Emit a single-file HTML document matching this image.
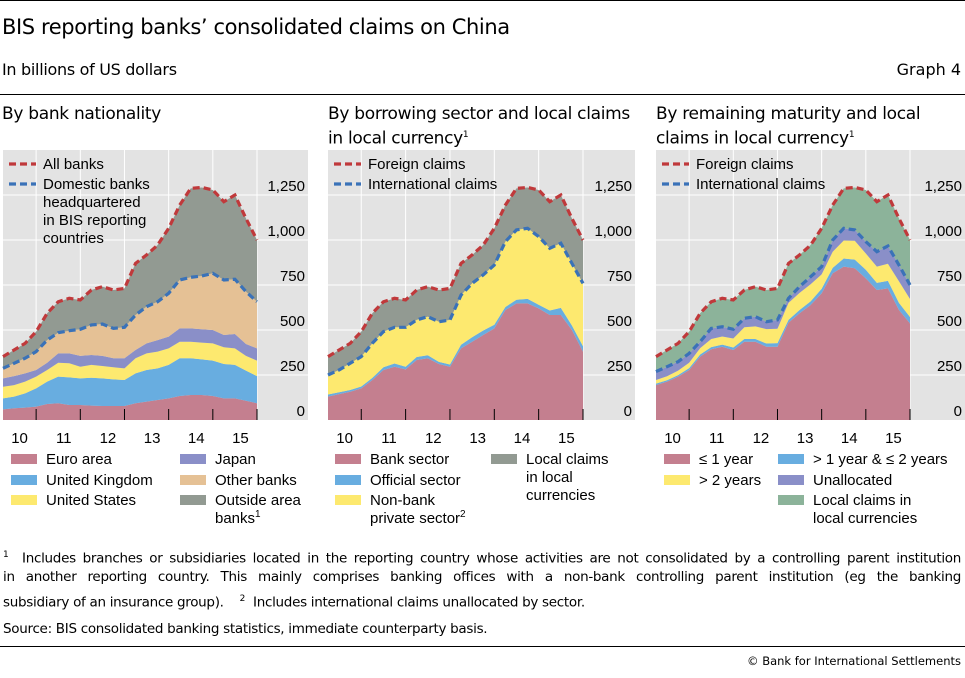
<!DOCTYPE html>
<html><head><meta charset="utf-8"><style>
body{margin:0;width:965px;height:678px;background:#fff;position:relative;font-family:"Liberation Sans",sans-serif;color:#000;overflow:hidden}
.t{position:absolute;white-space:nowrap}
.hd{font-family:"DejaVu Sans","Liberation Sans",sans-serif}
.fl{position:absolute;left:3px;width:958px;font-size:13.5px;line-height:21px;text-align:justify;text-align-last:justify;white-space:nowrap;font-family:"DejaVu Sans","Liberation Sans",sans-serif;letter-spacing:-0.3px}
sup{font-size:9px}
</style></head><body>
<div style="position:absolute;left:0;top:0;width:965px;height:1px;background:#000"></div>
<div class="t hd" style="left:2px;top:15px;font-size:21px;letter-spacing:-0.4px">BIS reporting banks’ consolidated claims on China</div>
<div class="t hd" style="left:2px;top:60px;font-size:16px;letter-spacing:-0.3px">In billions of US dollars</div>
<div class="t hd" style="right:4px;top:60px;font-size:16px">Graph 4</div>
<div style="position:absolute;left:0;top:94px;width:965px;height:1px;background:#000"></div>
<div class="t hd" style="left:2px;top:104px;font-size:17px;letter-spacing:-0.3px">By bank nationality</div>
<div class="t hd" style="left:328px;top:104px;font-size:17px;line-height:21px;letter-spacing:-0.3px">By borrowing sector and local claims<br>in local currency<sup>1</sup></div>
<div class="t hd" style="left:656px;top:104px;font-size:17px;line-height:21px;letter-spacing:-0.3px">By remaining maturity and local<br>claims in local currency<sup>1</sup></div>
<svg id="svg" width="965" height="678" style="position:absolute;left:0;top:0" font-family="Liberation Sans, sans-serif"></svg>
<div class="fl" style="top:545px"><sup>1</sup>&nbsp; Includes branches or subsidiaries located in the reporting country whose activities are not consolidated by a controlling parent institution</div>
<div class="fl" style="top:567px">in another reporting country. This mainly comprises banking offices with a non-bank controlling parent institution (eg the banking</div>
<div class="fl" style="top:589px;text-align-last:left">subsidiary of an insurance group).&nbsp;&nbsp;&nbsp; <sup>2</sup>&nbsp; Includes international claims unallocated by sector.</div>
<div class="t hd" style="left:3px;top:621px;font-size:13.5px;letter-spacing:-0.3px">Source: BIS consolidated banking statistics, immediate counterparty basis.</div>
<div style="position:absolute;left:0;top:646px;width:965px;height:1px;background:#000"></div>
<div class="t hd" style="right:4px;top:654px;font-size:11.5px">© Bank for International Settlements</div>
<script>
const years=['10','11','12','13','14','15'];
const yTicks=[0,250,500,750,1000,1250];
// panel 1
const p1Euro=[59,65,69,74,89,93,83,83,80,78,78,78,93,102,111,120,133,139,139,133,120,120,107,93];
const p1UK=[61,65,79,102,124,148,154,148,155,153,148,144,166,176,176,186,210,204,198,197,191,186,167,151];
const p1US=[65,64,65,65,65,77,78,65,71,69,67,65,84,92,93,92,92,92,93,96,93,92,82,86];
const p1Japan=[46,50,46,37,40,52,55,60,55,56,50,56,46,56,64,65,74,74,74,74,68,80,66,68];
const p1Domestic=[287,315,343,380,444,485,496,504,528,533,509,515,583,630,657,704,778,793,800,815,778,782,713,657];
const p1All=[352,389,426,491,593,657,676,667,722,741,722,731,870,917,972,1065,1194,1287,1292,1278,1213,1250,1120,1000];
// panel 2
const p2Bank=[130,144,157,176,222,278,296,281,333,343,311,296,398,435,472,509,611,648,648,620,583,583,500,380];
const p2Official=[12,10,10,10,12,15,18,15,17,17,12,12,20,25,25,20,17,20,25,20,25,40,25,30];
const p2International=[250,278,315,352,426,491,515,515,556,574,546,556,694,759,806,861,991,1056,1065,1019,954,982,870,759];
const p2Foreign=[352,389,426,491,593,657,676,667,722,741,722,731,870,917,972,1065,1194,1287,1292,1278,1213,1250,1120,1000];
// panel 3
const p3Short=[194,213,241,278,352,393,407,389,435,435,407,407,541,593,639,704,815,852,843,787,722,731,611,537];
const p3Mid=[8,8,8,10,12,12,12,14,15,15,18,20,15,18,20,25,30,45,48,48,40,42,40,35];
const p3Long=[20,22,25,30,35,45,45,50,65,70,80,80,95,95,95,80,90,100,105,90,90,95,120,100];
const p3International=[269,296,324,370,435,509,518,504,565,574,546,556,676,741,796,852,1000,1065,1056,991,935,967,861,750];
const p3Foreign=[352,389,426,491,593,657,676,667,722,741,722,731,870,917,972,1065,1194,1287,1292,1278,1213,1250,1120,1000];

const C={pink:'#c47f8f',blue:'#68ade0',yellow:'#fde96f',purple:'#8a8fc8',tan:'#e5c195',gray:'#929a92',green:'#8cb39a'};
const svg=document.getElementById('svg');const NS='http://www.w3.org/2000/svg';
function mk(tag,at,parent){const e=document.createElementNS(NS,tag);for(const k in at)e.setAttribute(k,at[k]);(parent||svg).appendChild(e);return e;}
const Y0=420,PXV=45/250;
function y(v){return Y0-v*PXV;}
function panel(id,left,right,x0,x1,layers,foreign,intl,legend){
  const g=mk('g',{});
  
  
  const bg=mk('rect',{x:left,y:150,width:right-left,height:270,fill:'#e3e3e3'},g);
  
  
  const n=foreign.length;const dx=(x1-x0)/(n-1);
  const X=i=>x0+i*dx;
  const yearX=k=>x0+(3+4*k)*dx;
  yTicks.forEach(v=>{if(v>0){const l=mk('line',{x1:left,x2:right,y1:y(v),y2:y(v),stroke:'#fff','stroke-width':1},g);
    
    }});
  for(let k=0;k<6;k++){const l=mk('line',{x1:yearX(k),x2:yearX(k),y1:150,y2:420,stroke:'#fff','stroke-width':1},g);
    
    }
  let base=new Array(n).fill(0);
  layers.forEach(L=>{
    const top=L.vals.map((v,i)=>L.abs?v:base[i]+v);
    let d='M'+X(0)+','+y(top[0]);
    for(let i=1;i<n;i++)d+='L'+X(i)+','+y(top[i]);
    for(let i=n-1;i>=0;i--)d+='L'+X(i)+','+y(base[i]);
    const p=mk('path',{d:d+'Z',fill:L.c},g);
    
    
    base=top;
  });
  [[intl,'#3a72b8','international-line'],[foreign,'#c0393b','foreign-line']].forEach(([a,c,nm])=>{
    const pts=a.map((v,i)=>X(i)+','+y(v)).join(' ');
    const pl=mk('polyline',{points:pts,fill:'none',stroke:c,'stroke-width':3.2,'stroke-dasharray':'7 4'},g);
    
    
  });
  for(let k=0;k<6;k++){const t=mk('line',{x1:yearX(k),x2:yearX(k),y1:409,y2:420,stroke:'#000','stroke-width':1},g);
    
    
    const lx=x0+(1.5+4*k)*dx;
    const tx=mk('text',{x:lx,y:443,'font-size':15,'text-anchor':'middle'},g);tx.textContent=years[k];
    
    }
  yTicks.forEach(v=>{const t=mk('text',{x:right-3,y:y(v)-4,'font-size':15,'text-anchor':'end'},g);t.textContent=v.toLocaleString('en-US');
    
    });
  legend.lines.forEach((txt,j)=>{const ly=164+j*20;
    mk('line',{x1:left+6,x2:left+33,y1:ly,y2:ly,stroke:j?'#3a72b8':'#c0393b','stroke-width':3.2,'stroke-dasharray':'7 4'},g);
    const t=mk('text',{x:left+40,y:ly+5,'font-size':15},g);
    
    
    (Array.isArray(txt)?txt:[txt]).forEach((s,q)=>{const ts=mk('tspan',{x:left+40,dy:q?18:0},t);ts.textContent=s;});
  });
  legend.items.forEach(it=>{
    const r=mk('rect',{x:it.x,y:it.y-5,width:26,height:10,fill:it.c},g);
    
    
    const t=mk('text',{x:it.x+35,y:it.y+5,'font-size':15},g);
    
    
    it.t.forEach((s,q)=>{const ts=mk('tspan',{x:it.x+35,dy:q?18:0},t);ts.innerHTML=s;});
  });
}
panel('panel-bank-nationality',3,308,3,257,[
  {vals:p1Euro,c:C.pink,name:'area-euro'},{vals:p1UK,c:C.blue,name:'area-uk'},{vals:p1US,c:C.yellow,name:'area-us'},
  {vals:p1Japan,c:C.purple,name:'area-japan'},{vals:p1Domestic,c:C.tan,abs:true,name:'area-other'},{vals:p1All,c:C.gray,abs:true,name:'area-outside'}],
  p1All,p1Domestic,{lines:['All banks',['Domestic banks','headquartered','in BIS reporting','countries']],items:[
  {x:11,y:459,c:C.pink,t:['Euro area']},{x:11,y:480,c:C.blue,t:['United Kingdom']},{x:11,y:500,c:C.yellow,t:['United States']},
  {x:180,y:459,c:C.purple,t:['Japan']},{x:180,y:480,c:C.tan,t:['Other banks']},{x:180,y:500,c:C.gray,t:['Outside area','banks<tspan dy="-6" font-size="10">1</tspan>']}]});
panel('panel-borrowing-sector',328,635,328,583,[
  {vals:p2Bank,c:C.pink,name:'area-bank-sector'},{vals:p2Official,c:C.blue,name:'area-official'},
  {vals:p2International,c:C.yellow,abs:true,name:'area-nonbank'},{vals:p2Foreign,c:C.gray,abs:true,name:'area-local'}],
  p2Foreign,p2International,{lines:['Foreign claims','International claims'],items:[
  {x:335,y:459,c:C.pink,t:['Bank sector']},{x:335,y:480,c:C.blue,t:['Official sector']},{x:335,y:500,c:C.yellow,t:['Non-bank','private sector<tspan dy="-6" font-size="10">2</tspan>']},
  {x:491,y:459,c:C.gray,t:['Local claims','in local','currencies']}]});
panel('panel-maturity',656,965,656,910,[
  {vals:p3Short,c:C.pink,name:'area-short'},{vals:p3Mid,c:C.blue,name:'area-mid'},{vals:p3Long,c:C.yellow,name:'area-long'},
  {vals:p3International,c:C.purple,abs:true,name:'area-unallocated'},{vals:p3Foreign,c:C.green,abs:true,name:'area-local'}],
  p3Foreign,p3International,{lines:['Foreign claims','International claims'],items:[
  {x:664,y:459,c:C.pink,t:['≤ 1 year']},{x:664,y:480,c:C.yellow,t:['&gt; 2 years']},
  {x:778,y:459,c:C.blue,t:['&gt; 1 year &amp; ≤ 2 years']},{x:778,y:480,c:C.purple,t:['Unallocated']},{x:778,y:500,c:C.green,t:['Local claims in','local currencies']}]});
</script>
</body></html>
